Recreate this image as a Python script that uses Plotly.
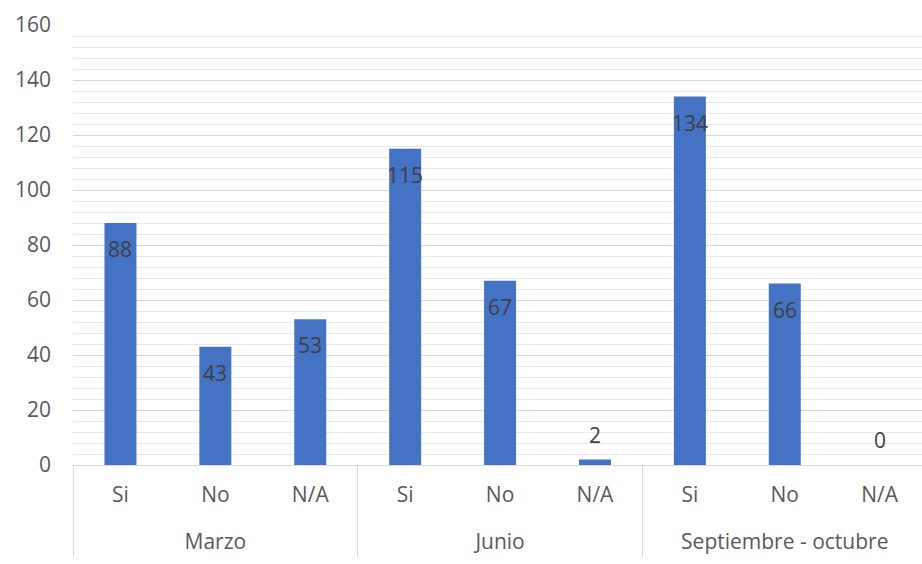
import plotly.graph_objects as go

# Survey responses per period
periods = ["Marzo", "Junio", "Septiembre - octubre"]
answers = ["Si", "No", "N/A", "Si", "No", "N/A", "Si", "No", "N/A"]
counts = [88, 43, 53, 115, 67, 2, 134, 66, 0]
y_ticks = [0, 20, 40, 60, 80, 100, 120, 140, 160]

BAR_COLOR = "#4472C4"
TEXT_GREY = "#595959"
LABEL_DARK = "#404040"
LINE_GREY = "#d9d9d9"
FONT = "Open Sans"
FSIZE = 21

per_group = len(answers) // len(periods)
positions = list(range(len(answers)))
group_centers = [g * per_group + (per_group - 1) / 2 for g in range(len(periods))]
group_edges = [g * per_group - 0.5 for g in range(len(periods) + 1)]

fig = go.Figure(
    go.Bar(
        x=positions,
        y=counts,
        marker=dict(color=BAR_COLOR, line=dict(width=0)),
        width=0.337,
        hoverinfo="skip",
    )
)

# Value labels: inside the top of tall bars, above the tiny ones
for xi, v in zip(positions, counts):
    inside = v >= 10
    fig.add_annotation(
        x=xi, y=v, xref="x", yref="y",
        text=str(v), showarrow=False,
        yanchor="middle",
        yshift=-26 if inside else 25,
        font=dict(family=FONT, size=FSIZE, color=LABEL_DARK),
    )

x_range = [-0.5, 8.446]

fig.update_layout(
    width=922, height=564,
    margin=dict(l=73, r=0, t=25, b=99),
    paper_bgcolor="white", plot_bgcolor="white",
    showlegend=False,
    font=dict(family=FONT, size=FSIZE, color=TEXT_GREY),
    # answer labels (first row)
    xaxis=dict(
        range=x_range, tickmode="array",
        tickvals=positions, ticktext=answers,
        ticks="", showgrid=False, zeroline=False,
        showline=True, linecolor=LINE_GREY, linewidth=1,
        ticklabelstandoff=11,
        tickfont=dict(family=FONT, size=FSIZE, color=TEXT_GREY),
    ),
    # period labels (second row)
    xaxis2=dict(
        overlaying="x", anchor="y", side="bottom", matches="x",
        tickmode="array", tickvals=group_centers, ticktext=periods,
        ticks="", showgrid=False, zeroline=False, showline=False,
        ticklabelstandoff=62,
        tickfont=dict(family=FONT, size=FSIZE, color=TEXT_GREY),
    ),
    # group dividers
    xaxis3=dict(
        overlaying="x", anchor="y", side="bottom", matches="x",
        tickmode="array", tickvals=group_edges,
        ticks="outside", ticklen=91, tickwidth=1, tickcolor=LINE_GREY,
        showticklabels=False, showgrid=False, zeroline=False, showline=False,
    ),
    yaxis=dict(
        range=[0, 160], tickmode="array", tickvals=y_ticks,
        showgrid=True, gridcolor=LINE_GREY, gridwidth=1,
        minor=dict(dtick=4, showgrid=True, gridcolor="#e9e9e9", gridwidth=1),
        zeroline=False, showline=False,
        ticks="", ticklabelstandoff=21,
        tickfont=dict(family=FONT, size=FSIZE, color=TEXT_GREY),
    ),
)

# invisible traces so the extra axes are drawn
for ax in ("x2", "x3"):
    fig.add_trace(go.Scatter(x=[positions[0]], y=[0], xaxis=ax, yaxis="y",
                             mode="markers", marker=dict(opacity=0),
                             hoverinfo="skip", showlegend=False))

fig.write_html("out.html")
